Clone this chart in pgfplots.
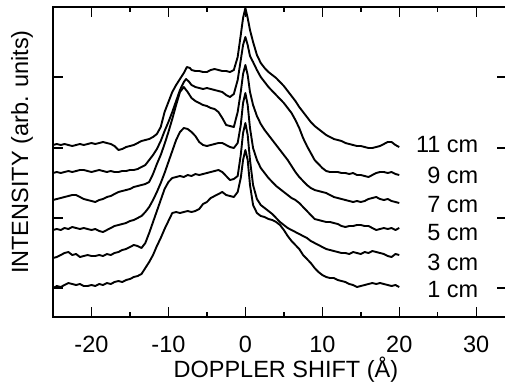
\documentclass[border=0pt]{standalone}
\usepackage{pgfplots}
\pgfplotsset{compat=1.18}
\usepackage{fontspec}
\setmainfont{Liberation Sans}
\tikzset{curve/.style={black, line width=1.9pt, line join=round, mark=none, solid}}
\begin{document}
\begin{tikzpicture}
\begin{axis}[
  scale only axis, width=454pt, height=310pt,
  xmin=-25, xmax=34, ymin=7, ymax=317, y dir=reverse,
  axis line style={line width=1.8pt},
  every tick/.style={black, line width=1.4pt},
  major tick length=10pt, minor tick length=5pt,
  xtick={-20,-10,0,10,20,30},
  minor xtick={-15,-5,5,15,25},
  ytick={77,148,218,288}, yticklabels={},
  /pgf/number format/assume math mode=true,
  ticklabel style={font=\fontsize{23.5}{28}\selectfont},
  xticklabel shift=16pt,
  label style={font=\fontsize{23.5}{28}\selectfont},
  xlabel={DOPPLER SHIFT (Å)},
  ylabel={INTENSITY (arb. units)},
  xlabel style={at={(axis description cs:0.513,-0.171)}, anchor=center},
  ylabel style={at={(axis description cs:-0.068,0.532)}, anchor=center},
  clip=false,
]
\coordinate (SW) at (axis description cs:0,0);
% 1 cm
\addplot[curve] coordinates {(-25,288)(-24.5,286)(-24,287)(-23.5,285)(-23,283)(-22.5,284)(-22,285)(-21.5,284)(-21,286)(-20.5,286)(-20,285)(-19.5,286)(-19,284)(-18.5,285)(-18,283)(-17.5,284)(-17,282)(-16.5,281)(-16,282)(-15.5,280)(-15,279)(-14.5,277)(-14,276)(-13.5,274)(-13,268)(-12.5,262)(-12,255)(-11.5,246)(-11,238)(-10.5,229)(-10,221)(-9.5,213)(-9,212)(-8.5,213)(-8,212)(-7.5,211)(-7,212)(-6.5,211)(-6,209)(-5.5,204)(-5,202)(-4.5,198)(-4,196)(-3.5,194)(-3,192)(-2.5,195)(-2,196)(-1.5,197)(-1,192)(-0.6,178)(-0.3,160)(0,150)(0.3,160)(0.6,185)(1,205)(1.5,213)(2,216)(2.5,217)(3,219)(3.5,220)(4,222)(4.5,225)(5,230)(5.5,236)(6,241)(6.5,245)(7,249)(7.5,255)(8,259)(8.5,263)(9,268)(9.5,272)(10,275)(10.5,277)(11,278)(11.5,278)(12,280)(12.5,281)(13,282)(13.5,284)(14,285)(14.5,287)(15,286)(15.5,285)(16,284)(16.5,283)(17,284)(17.5,283)(18,284)(18.5,285)(19,286)(19.5,285)(20,287)};
% 3 cm
\addplot[curve] coordinates {(-25,258)(-24.5,257)(-24,255)(-23.5,253)(-23,252)(-22.5,255)(-22,254)(-21.5,257)(-21,256)(-20.5,255)(-20,256)(-19.5,256)(-19,255)(-18.5,256)(-18,254)(-17.5,255)(-17,253)(-16.5,252)(-16,250)(-15.5,249)(-15,247)(-14.5,245)(-14,246)(-13.5,248)(-13,243)(-12.5,233)(-12,222)(-11.5,211)(-11,200)(-10.5,189)(-10,182)(-9.5,178)(-9,177)(-8.5,176)(-8,177)(-7.5,175)(-7,176)(-6.5,174)(-6,175)(-5.5,174)(-5,173)(-4.5,172)(-4,171)(-3.5,170)(-3,172)(-2.5,176)(-2,180)(-1.5,179)(-1,176)(-0.6,155)(-0.3,133)(0,123)(0.3,135)(0.6,160)(1,185)(1.5,199)(2,205)(2.5,208)(3,211)(3.5,214)(4,218)(4.5,222)(5,225)(5.5,228)(6,230)(6.5,232)(7,234)(7.5,236)(8,238)(8.5,241)(9,243)(9.5,245)(10,247)(10.5,249)(11,250)(11.5,251)(12,252)(12.5,253)(13,253)(13.5,254)(14,252)(14.5,253)(15,254)(15.5,252)(16,253)(16.5,251)(17,252)(17.5,253)(18,254)(18.5,256)(19,257)(19.5,254)(20,255)};
% 5 cm
\addplot[curve] coordinates {(-25,230)(-24.5,229)(-24,230)(-23.5,228)(-23,229)(-22.5,227)(-22,228)(-21.5,229)(-21,228)(-20.5,229)(-20,230)(-19.5,229)(-19,231)(-18.5,232)(-18,230)(-17.5,228)(-17,226)(-16.5,225)(-16,224)(-15.5,223)(-15,221)(-14.5,220)(-14,218)(-13.5,216)(-13,212)(-12.5,207)(-12,200)(-11.5,192)(-11,183)(-10.5,173)(-10,162)(-9.5,151)(-9,140)(-8.5,132)(-8,128)(-7.5,129)(-7,132)(-6.5,136)(-6,142)(-5.5,145)(-5,146)(-4.5,145)(-4,144)(-3.5,143)(-3,143)(-2.5,145)(-2,147)(-1.5,148)(-1,143)(-0.6,125)(-0.3,103)(0,93)(0.3,105)(0.6,128)(1,148)(1.5,160)(2,168)(2.5,173)(3,178)(3.5,182)(4,186)(4.5,189)(5,192)(5.5,195)(6,198)(6.5,200)(7,203)(7.5,207)(8,211)(8.5,215)(9,219)(9.5,220)(10,221)(10.5,222)(11,222)(11.5,223)(12,224)(12.5,226)(13,227)(13.5,226)(14,226)(14.5,225)(15,225)(15.5,226)(16,226)(16.5,228)(17,230)(17.5,229)(18,228)(18.5,229)(19,228)(19.5,230)(20,228)};
% 7 cm
\addplot[curve] coordinates {(-25,200)(-24.5,199)(-24,198)(-23.5,197)(-23,196)(-22.5,195)(-22,195)(-21.5,197)(-21,199)(-20.5,200)(-20,201)(-19.5,202)(-19,200)(-18.5,199)(-18,197)(-17.5,196)(-17,194)(-16.5,192)(-16,191)(-15.5,190)(-15,189)(-14.5,187)(-14,186)(-13.5,185)(-13,184)(-12.5,182)(-12,174)(-11.5,164)(-11,155)(-10.5,144)(-10,132)(-9.5,119)(-9,105)(-8.5,92)(-8,87)(-7.5,92)(-7,98)(-6.5,101)(-6,103)(-5.5,105)(-5,106)(-4.5,108)(-4,109)(-3.5,112)(-3,118)(-2.5,125)(-2,126)(-1.5,127)(-1,112)(-0.6,92)(-0.3,74)(0,65)(0.3,75)(0.6,92)(1,105)(1.5,116)(2,124)(2.5,130)(3,135)(3.5,140)(4,145)(4.5,150)(5,155)(5.5,160)(6,166)(6.5,172)(7,177)(7.5,181)(8,185)(8.5,188)(9,190)(9.5,191)(10,192)(10.5,193)(11,195)(11.5,197)(12,198)(12.5,199)(13,200)(13.5,201)(14,202)(14.5,201)(15,202)(15.5,201)(16,199)(16.5,198)(17,197)(17.5,199)(18,200)(18.5,199)(19,201)(19.5,202)(20,203)};
% 9 cm
\addplot[curve] coordinates {(-25,173)(-24.5,172)(-24,173)(-23.5,172)(-23,171)(-22.5,172)(-22,171)(-21.5,170)(-21,170)(-20.5,171)(-20,172)(-19.5,171)(-19,170)(-18.5,171)(-18,172)(-17.5,171)(-17,172)(-16.5,172)(-16,171)(-15.5,171)(-15,170)(-14.5,170)(-14,169)(-13.5,167)(-13,165)(-12.5,160)(-12,155)(-11.5,149)(-11,141)(-10.5,131)(-10,122)(-9.5,112)(-9,101)(-8.5,90)(-8,82)(-7.7,79)(-7.3,82)(-7,85)(-6.5,87)(-6,88)(-5.5,89)(-5,88)(-4.5,89)(-4,90)(-3.5,91)(-3,92)(-2.5,95)(-2,97)(-1.5,94)(-1,80)(-0.6,60)(-0.3,45)(0,37)(0.3,45)(0.6,56)(1,62)(1.5,70)(2,77)(2.5,82)(3,87)(3.5,91)(4,95)(4.5,99)(5,103)(5.5,108)(6,113)(6.5,120)(7,128)(7.5,138)(8,146)(8.5,153)(9,160)(9.5,164)(10,168)(10.5,171)(11,172)(11.5,172)(12,172)(12.5,173)(13,173)(13.5,174)(14,173)(14.5,175)(15,175)(15.5,176)(16,177)(16.5,175)(17,173)(17.5,172)(18,172)(18.5,173)(19,172)(19.5,174)(20,175)};
% 11 cm
\addplot[curve] coordinates {(-25,145)(-24.5,144)(-24,145)(-23.5,144)(-23,145)(-22.5,146)(-22,145)(-21.5,144)(-21,145)(-20.5,144)(-20,143)(-19.5,144)(-19,143)(-18.5,142)(-18,143)(-17.5,144)(-17,146)(-16.5,150)(-16,149)(-15.5,147)(-15,146)(-14.5,145)(-14,143)(-13.5,141)(-13,140)(-12.5,139)(-12,137)(-11.5,134)(-11,127)(-10.5,112)(-10,102)(-9.5,92)(-9,85)(-8.5,79)(-8,73)(-7.6,67)(-7.2,68)(-7,70)(-6.5,71)(-6,71)(-5.5,72)(-5,72)(-4.5,70)(-4,69)(-3.5,70)(-3,71)(-2.5,71)(-2,72)(-1.5,70)(-1,57)(-0.6,35)(-0.3,18)(0,8)(0.3,18)(0.6,30)(1,42)(1.5,55)(2,63)(2.5,68)(3,72)(3.5,75)(4,78)(4.5,82)(5,86)(5.5,91)(6,96)(6.5,101)(7,107)(7.5,112)(8,117)(8.5,122)(9,126)(9.5,129)(10,132)(10.5,135)(11,137)(11.5,139)(12,140)(12.5,141)(13,143)(13.5,144)(14,145)(14.5,146)(15,146)(15.5,147)(16,148)(16.5,148)(17,147)(17.5,146)(18,144)(18.5,142)(19,142)(19.5,145)(20,147)};
\begin{scope}[every node/.style={anchor=east, inner sep=0pt, font=\fontsize{23.5}{28}\selectfont}]
\node at (axis cs:30.3,145) {11 cm};
\node at (axis cs:30.3,175) {9 cm};
\node at (axis cs:30.3,205) {7 cm};
\node at (axis cs:30.3,233) {5 cm};
\node at (axis cs:30.3,262) {3 cm};
\node at (axis cs:30.3,290) {1 cm};
\end{scope}
\end{axis}
\pgfresetboundingbox
\useasboundingbox ([shift={(-53pt,-69pt)}]SW) rectangle ([shift={(452pt,317pt)}]SW);
\end{tikzpicture}
\end{document}
